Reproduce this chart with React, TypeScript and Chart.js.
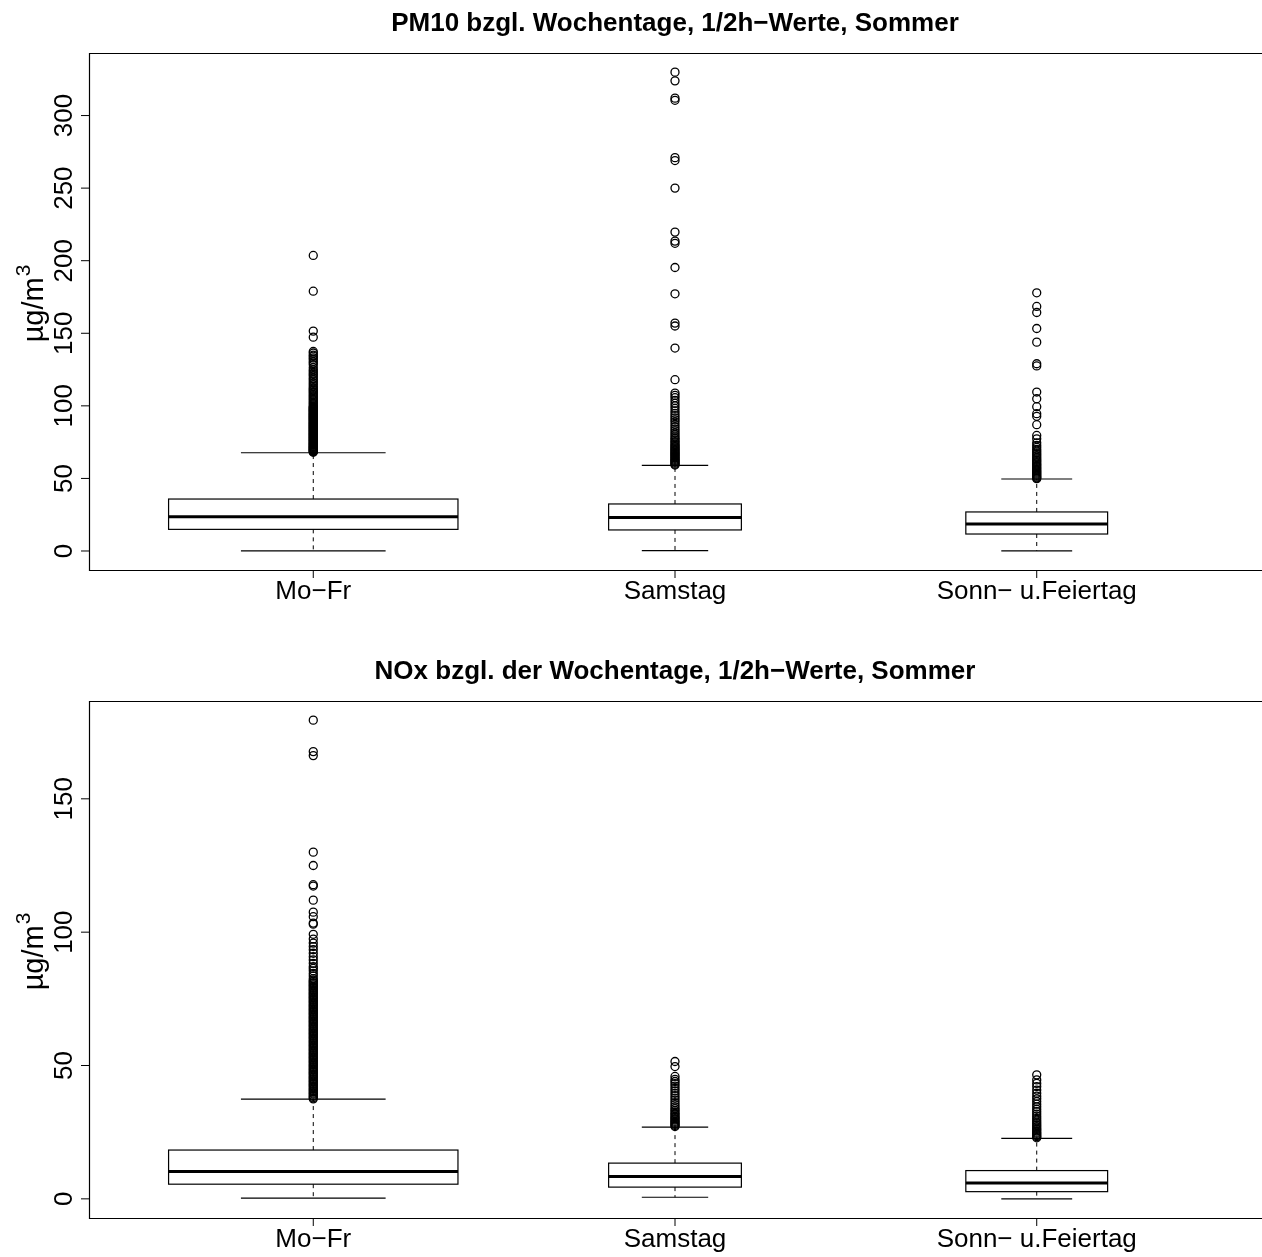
import React, { useEffect, useRef } from "react";
import { Chart, registerables } from "chart.js";

Chart.register(...registerables);

// ---------- data ----------
const CATEGORIES = ["Mo\u2212Fr", "Samstag", "Sonn\u2212 u.Feiertag"];

const PM10_TITLE = "PM10 bzgl. Wochentage, 1/2h\u2212Werte, Sommer";
const PM10_TICKS = [0, 50, 100, 150, 200, 250, 300];
const PM10_LOW = [0.1, 0.2, 0.1];
const PM10_Q1 = [14.9, 14.5, 11.7];
const PM10_MEDIAN = [23.6, 23.1, 18.6];
const PM10_Q3 = [35.8, 32.4, 26.9];
const PM10_HIGH = [67.7, 59.0, 49.6];
const PM10_OUT_MOFR = [
  68.0, 68.4, 68.8, 69.1, 69.5, 69.8, 70.2, 70.5, 70.9, 71.3, 71.7, 72.0, 72.4,
  72.9, 73.2, 73.6, 74.0, 74.4, 74.8, 75.3, 75.7, 76.1, 76.5, 77.0, 77.4, 77.8,
  78.2, 78.7, 79.1, 79.5, 79.9, 80.4, 80.8, 81.2, 81.6, 82.1, 82.5, 83.0, 83.4,
  83.8, 84.2, 84.7, 85.1, 85.6, 86.0, 86.4, 86.8, 87.3, 87.7, 88.2, 88.6, 89.1,
  89.5, 90.0, 90.4, 90.9, 91.3, 91.8, 92.2, 92.6, 93.0, 93.5, 93.9, 94.4, 94.8,
  95.3, 95.7, 96.2, 96.6, 97.1, 97.5, 98.0, 98.4, 98.9, 99.3, 99.8, 100.7,
  101.6, 102.5, 103.4, 104.3, 105.2, 106.1, 107.0, 107.9, 108.8, 109.7, 110.6,
  111.5, 112.2, 113.4, 114.6, 115.7, 117.0, 118.2, 119.1, 120.5, 121.6, 122.6,
  123.8, 124.9, 126.4, 128.3, 129.5, 130.6, 132.0, 133.0, 134.2, 135.0, 136.4,
  137.5, 147.3, 151.5, 179.0, 203.6,
];
const PM10_OUT_SA = [
  59.2, 59.8, 60.5, 61.1, 61.8, 62.4, 63.1, 63.8, 64.5, 65.2, 65.9, 66.6, 67.3,
  68.0, 68.8, 69.5, 70.3, 71.1, 71.9, 72.7, 73.6, 74.5, 75.4, 76.4, 77.5, 78.6,
  80.0, 81.3, 82.7, 84.0, 85.6, 87.2, 88.8, 90.3, 91.7, 93.2, 94.8, 96.5, 98.3,
  100.0, 101.8, 103.7, 105.6, 107.2, 108.8, 118.0, 139.8, 155.0, 157.0, 177.2,
  195.3, 212.0, 213.5, 219.7, 250.0, 269.0, 271.0, 310.5, 312.0, 323.9, 329.9,
];
const PM10_OUT_SO = [
  49.8, 50.4, 51.0, 51.7, 52.3, 53.0, 53.7, 54.4, 55.1, 55.8, 56.6, 57.4, 58.2,
  59.0, 59.8, 60.7, 61.6, 62.5, 63.4, 64.4, 65.4, 66.5, 67.6, 68.8, 70.0, 71.4,
  72.8, 74.5, 77.3, 79.6, 87.0, 92.8, 94.6, 99.4, 104.9, 109.5, 127.5, 129.0,
  143.9, 153.3, 164.3, 168.5, 177.9,
];

const NOX_TITLE = "NOx bzgl. der Wochentage, 1/2h\u2212Werte, Sommer";
const NOX_TICKS = [0, 50, 100, 150];
const NOX_LOW = [0.3, 0.6, 0.0];
const NOX_Q1 = [5.5, 4.4, 2.7];
const NOX_MEDIAN = [10.3, 8.4, 5.9];
const NOX_Q3 = [18.3, 13.4, 10.6];
const NOX_HIGH = [37.4, 26.9, 22.7];
const NOX_OUT_MOFR = [
  37.5, 37.9, 38.4, 38.8, 39.3, 39.7, 40.2, 40.6, 41.1, 41.5, 42.0, 42.4, 42.9,
  43.3, 43.8, 44.2, 44.7, 45.1, 45.6, 46.0, 46.5, 46.9, 47.4, 47.8, 48.3, 48.7,
  49.2, 49.6, 50.1, 50.5, 51.0, 51.4, 51.9, 52.3, 52.8, 53.2, 53.7, 54.1, 54.6,
  55.0, 55.5, 55.9, 56.4, 56.8, 57.3, 57.7, 58.2, 58.6, 59.1, 59.5, 60.0, 60.4,
  60.9, 61.3, 61.8, 62.2, 62.7, 63.1, 63.6, 64.0, 64.5, 64.9, 65.4, 65.8, 66.3,
  66.7, 67.2, 67.6, 68.1, 68.5, 69.0, 69.4, 69.9, 70.3, 70.8, 71.2, 71.7, 72.1,
  72.6, 73.0, 73.5, 73.9, 74.4, 74.8, 75.3, 75.7, 76.2, 76.6, 77.1, 77.5, 78.0,
  78.4, 78.9, 79.3, 79.8, 80.2, 80.7, 81.1, 81.6, 82.0, 82.6, 83.6, 84.5, 85.5,
  86.4, 87.1, 88.3, 89.6, 90.8, 92.1, 93.4, 94.6, 95.9, 97.4, 99.2, 103.0, 103.4,
  105.8, 107.5, 112.0, 117.3, 117.8, 125.0, 130.0, 166.2, 167.7, 179.5,
];
const NOX_OUT_SA = [
  27.1, 27.5, 27.9, 28.3, 28.7, 29.1, 29.6, 30.0, 30.5, 31.0, 31.5, 32.0, 32.6,
  33.2, 33.8, 34.5, 35.3, 36.1, 37.0, 37.8, 38.7, 39.6, 40.5, 41.4, 42.3, 43.2,
  44.0, 44.8, 45.9, 49.6, 51.5,
];
const NOX_OUT_SO = [
  22.9, 23.3, 23.7, 24.1, 24.6, 25.0, 25.5, 26.0, 26.5, 27.0, 27.6, 28.2, 28.8,
  29.5, 30.2, 31.0, 31.8, 32.7, 33.6, 34.5, 35.5, 36.5, 37.5, 38.5, 39.6, 40.8,
  42.1, 43.3, 44.6, 46.5,
];

// relative box widths (in x-axis units), R varwidth style
const BOX_WIDTHS = [0.8, 0.367, 0.392];

// ---------- styling ----------
const FONT = '"Liberation Sans", Arial, Helvetica, sans-serif';
const AXIS_FONT = `26px ${FONT}`;
const YLAB_FONT = `29px ${FONT}`;
const SUP_FONT = `21px ${FONT}`;
const TITLE_FONT = `bold 26px ${FONT}`;

type PanelProps = {
  title: string;
  ticks: number[];
  low: number[];
  q1: number[];
  median: number[];
  q3: number[];
  high: number[];
  outliers: number[][];
  width: number;
  height: number;
  padTop: number;
  padBottom: number;
};

function BoxPanel(props: PanelProps) {
  const ref = useRef<HTMLCanvasElement | null>(null);

  useEffect(() => {
    const canvas = ref.current;
    if (!canvas) return;
    const { title, ticks, low, q1, median, q3, high, outliers } = props;

    const all: number[] = [...low, ...high, ...outliers.flat()];
    const dMin = Math.min(...all);
    const dMax = Math.max(...all);
    const pad = (dMax - dMin) * 0.04;

    const boxPlugin = {
      id: "rbox",
      beforeDatasetsDraw(chart: any) {
        const ctx = chart.ctx as CanvasRenderingContext2D;
        const xs = chart.scales.x;
        const ys = chart.scales.y;
        const area = chart.chartArea;
        ctx.save();
        ctx.beginPath();
        ctx.rect(area.left, area.top, area.right - area.left, area.bottom - area.top);
        ctx.clip();
        for (let i = 0; i < CATEGORIES.length; i++) {
          const cx = xs.getPixelForValue(i + 1);
          const hw = xs.getPixelForValue(i + 1 + BOX_WIDTHS[i] / 2) - cx;
          const capw = hw / 2;
          const pLow = ys.getPixelForValue(low[i]);
          const pQ1 = ys.getPixelForValue(q1[i]);
          const pMed = ys.getPixelForValue(median[i]);
          const pQ3 = ys.getPixelForValue(q3[i]);
          const pHigh = ys.getPixelForValue(high[i]);
          ctx.strokeStyle = "#000";
          ctx.lineWidth = 1;
          ctx.setLineDash([4, 4]);
          ctx.beginPath();
          ctx.moveTo(cx, pQ3);
          ctx.lineTo(cx, pHigh);
          ctx.moveTo(cx, pQ1);
          ctx.lineTo(cx, pLow);
          ctx.stroke();
          ctx.setLineDash([]);
          ctx.lineWidth = 1.2;
          ctx.beginPath();
          ctx.moveTo(cx - capw, pHigh);
          ctx.lineTo(cx + capw, pHigh);
          ctx.moveTo(cx - capw, pLow);
          ctx.lineTo(cx + capw, pLow);
          ctx.stroke();
          ctx.lineWidth = 1.2;
          ctx.strokeRect(cx - hw, pQ3, hw * 2, pQ1 - pQ3);
          ctx.lineWidth = 3;
          ctx.beginPath();
          ctx.moveTo(cx - hw, pMed);
          ctx.lineTo(cx + hw, pMed);
          ctx.stroke();
        }
        ctx.restore();
      },
      afterDraw(chart: any) {
        const ctx = chart.ctx as CanvasRenderingContext2D;
        const xs = chart.scales.x;
        const ys = chart.scales.y;
        const a = chart.chartArea;
        ctx.save();
        ctx.strokeStyle = "#000";
        ctx.fillStyle = "#000";
        ctx.lineWidth = 1.2;
        // frame (left, top, bottom; right edge lies at the image border)
        const L = Math.round(a.left) + 0.5;
        const T = Math.round(a.top) + 0.5;
        const B = Math.round(a.bottom) + 0.5;
        ctx.beginPath();
        ctx.moveTo(a.right + 2, T);
        ctx.lineTo(L, T);
        ctx.lineTo(L, B);
        ctx.lineTo(a.right + 2, B);
        ctx.stroke();
        // y ticks
        ctx.lineWidth = 1;
        ctx.font = AXIS_FONT;
        for (const t of ticks) {
          const py = ys.getPixelForValue(t);
          ctx.beginPath();
          ctx.moveTo(a.left, py);
          ctx.lineTo(a.left - 8, py);
          ctx.stroke();
          ctx.save();
          ctx.translate(a.left - 17, py);
          ctx.rotate(-Math.PI / 2);
          ctx.textAlign = "center";
          ctx.textBaseline = "alphabetic";
          ctx.fillText(String(t), 0, 0);
          ctx.restore();
        }
        // x ticks
        for (let i = 0; i < CATEGORIES.length; i++) {
          const px = xs.getPixelForValue(i + 1);
          ctx.beginPath();
          ctx.moveTo(px, a.bottom);
          ctx.lineTo(px, a.bottom + 8);
          ctx.stroke();
          ctx.textAlign = "center";
          ctx.textBaseline = "alphabetic";
          ctx.fillText(CATEGORIES[i], px, a.bottom + 28.5);
        }
        // title
        ctx.font = TITLE_FONT;
        ctx.textAlign = "center";
        ctx.fillText(title, (a.left + a.right) / 2, a.top - 22);
        // y label with superscript
        const main = "\u00b5g/m";
        const sup = "3";
        ctx.font = YLAB_FONT;
        const w1 = ctx.measureText(main).width;
        ctx.font = SUP_FONT;
        const w2 = ctx.measureText(sup).width;
        const cy = (a.top + a.bottom) / 2 - 8;
        ctx.save();
        ctx.translate(43, cy);
        ctx.rotate(-Math.PI / 2);
        ctx.textAlign = "left";
        ctx.textBaseline = "alphabetic";
        const start = -(w1 + w2 + 1) / 2;
        ctx.font = YLAB_FONT;
        ctx.fillText(main, start, 0);
        ctx.font = SUP_FONT;
        ctx.fillText(sup, start + w1 + 1, -13);
        ctx.restore();
        ctx.restore();
      },
    };

    const chart = new Chart(canvas, {
      type: "scatter",
      data: {
        datasets: CATEGORIES.map((c, i) => ({
          label: c,
          data: outliers[i].map((v) => ({ x: i + 1, y: v })),
          pointRadius: 4,
          pointHoverRadius: 4,
          pointBorderWidth: 1.3,
          pointBorderColor: "#000",
          pointBackgroundColor: "rgba(0,0,0,0)",
          showLine: false,
        })),
      },
      options: {
        animation: false,
        responsive: false,
        events: [],
        layout: {
          autoPadding: false,
          padding: { left: 89, top: props.padTop, right: 1, bottom: props.padBottom },
        },
        plugins: {
          legend: { display: false },
          tooltip: { enabled: false },
          title: { display: false },
        },
        scales: {
          x: { type: "linear", display: false, min: 0.38, max: 3.62 },
          y: { type: "linear", display: false, min: dMin - pad, max: dMax + pad },
        },
      },
      plugins: [boxPlugin],
    } as any);

    return () => chart.destroy();
  }, []);

  return (
    <canvas
      ref={ref}
      width={props.width}
      height={props.height}
      style={{ display: "block", width: props.width, height: props.height }}
    />
  );
}

export default function App() {
  return (
    <div style={{ position: "absolute", left: 0, top: 0, width: 1262, height: 1257, background: "#fff" }}>
      <BoxPanel
        title={PM10_TITLE}
        ticks={PM10_TICKS}
        low={PM10_LOW}
        q1={PM10_Q1}
        median={PM10_MEDIAN}
        q3={PM10_Q3}
        high={PM10_HIGH}
        outliers={[PM10_OUT_MOFR, PM10_OUT_SA, PM10_OUT_SO]}
        width={1262}
        height={628}
        padTop={53}
        padBottom={58}
      />
      <BoxPanel
        title={NOX_TITLE}
        ticks={NOX_TICKS}
        low={NOX_LOW}
        q1={NOX_Q1}
        median={NOX_MEDIAN}
        q3={NOX_Q3}
        high={NOX_HIGH}
        outliers={[NOX_OUT_MOFR, NOX_OUT_SA, NOX_OUT_SO]}
        width={1262}
        height={629}
        padTop={73}
        padBottom={39}
      />
    </div>
  );
}
